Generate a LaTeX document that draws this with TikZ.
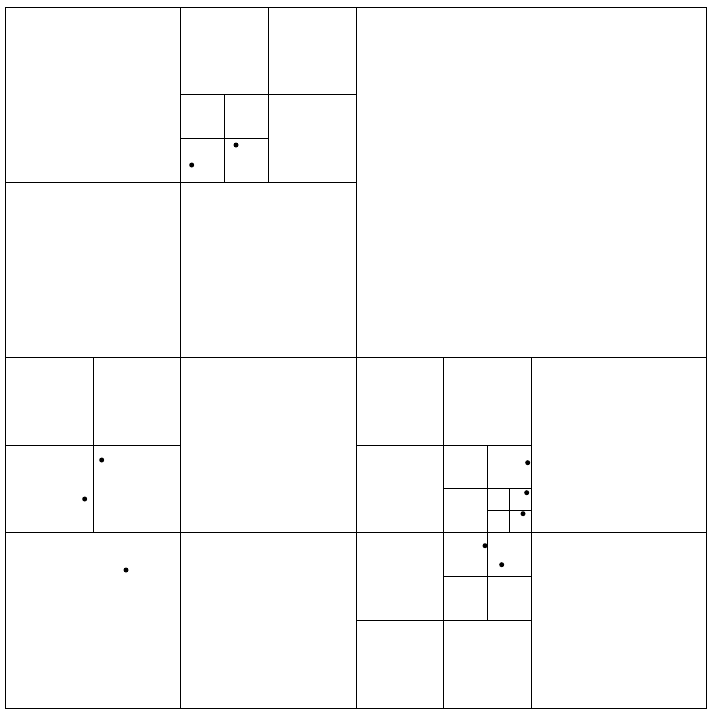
\documentclass[tikz,border=0pt]{standalone}
\begin{document}
\begin{tikzpicture}[x=1pt,y=-1pt,
  cell/.style={draw=black,line width=0.9pt},
  pt/.style={fill=black}]
\useasboundingbox (0,0) rectangle (715,715);
\begin{scope}[shift={(5.5pt,-7pt)},x=87.625pt,y=-87.625pt,cell/.append style={}]
  % outer square
  \draw[cell] (0,0) rectangle (8,8);
  % quadrants
  \draw[cell] (4,0) -- (4,8);
  \draw[cell] (0,4) -- (8,4);
  % top-left quadrant
  \draw[cell] (2,0) -- (2,4);
  \draw[cell] (0,2) -- (4,2);
  \draw[cell] (3,0) -- (3,2);
  \draw[cell] (2,1) -- (4,1);
  \draw[cell] (2.5,1) -- (2.5,2);
  \draw[cell] (2,1.5) -- (3,1.5);
  % bottom-left quadrant
  \draw[cell] (2,4) -- (2,8);
  \draw[cell] (0,6) -- (4,6);
  \draw[cell] (1,4) -- (1,6);
  \draw[cell] (0,5) -- (2,5);
  % bottom-right quadrant
  \draw[cell] (6,4) -- (6,8);
  \draw[cell] (4,6) -- (8,6);
  \draw[cell] (5,4) -- (5,8);
  \draw[cell] (4,5) -- (6,5);
  \draw[cell] (4,7) -- (6,7);
  \draw[cell] (5.5,5) -- (5.5,7);
  \draw[cell] (5,5.5) -- (6,5.5);
  \draw[cell] (5,6.5) -- (6,6.5);
  \draw[cell] (5.75,5.5) -- (5.75,6);
  \draw[cell] (5.5,5.75) -- (6,5.75);
\end{scope}
% points
\foreach \px/\py in {191.7/165, 236/145, 101.7/460, 84.7/499, 126/570,
  527.7/462.7, 526.7/492.7, 523/513.7, 485/545.7, 501.7/564.7}
  \fill[pt] (\px,\py) circle (2.5pt);
\end{tikzpicture}
\end{document}
